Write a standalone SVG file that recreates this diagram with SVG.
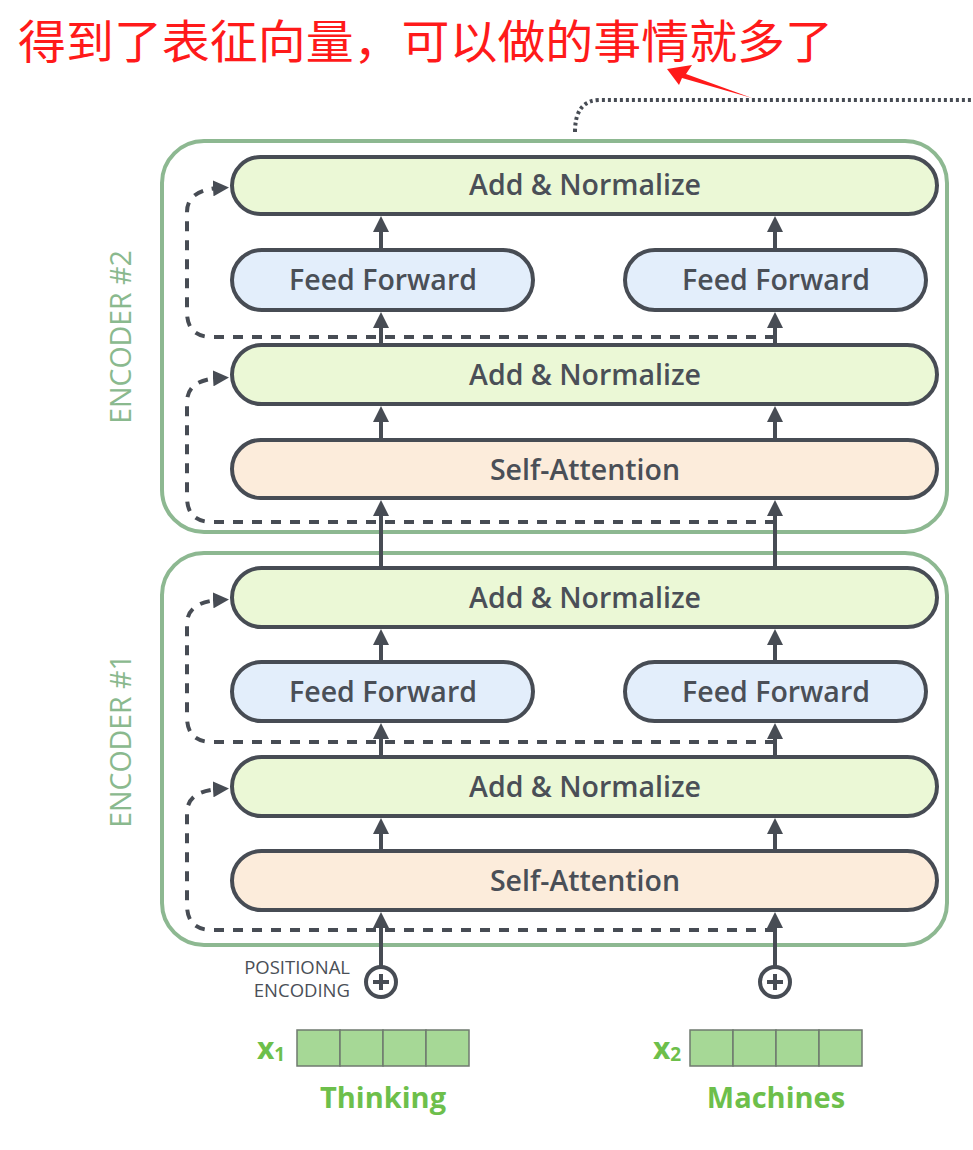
<svg xmlns="http://www.w3.org/2000/svg" width="973" height="1150" viewBox="0 0 973 1150">
<style>
.enc{fill:#fff;stroke:#8db891;stroke-width:4}
.node{stroke:#474c54;stroke-width:4}
.an{fill:#ebf8d6}
.ff{fill:#e3eefb}
.sa{fill:#fcecdb}
.lbl{font-family:"Open Sans","Liberation Sans",sans-serif;font-size:28.5px;font-weight:600;fill:#4a4f57;text-anchor:middle}
.enclbl{font-family:"Open Sans","Liberation Sans",sans-serif;font-size:28.5px;fill:#8ab98e;text-anchor:middle}
.pe{font-family:"Open Sans","Liberation Sans",sans-serif;font-size:18.5px;fill:#4a4f57;text-anchor:end}
.solid{fill:none;stroke:#474c54;stroke-width:4;marker-end:url(#ah)}
.dash{fill:none;stroke:#474c54;stroke-width:4;stroke-dasharray:10 9;marker-end:url(#ah)}
.green{font-family:"Open Sans","Liberation Sans",sans-serif;font-weight:bold;fill:#6dbf4b}
.vec{fill:#a6d896;stroke:#6f7a6f;stroke-width:1.5}
</style>
<defs>
<marker id="ah" viewBox="0 0 10 10" refX="3.75" refY="5" markerWidth="16" markerHeight="16" markerUnits="userSpaceOnUse" orient="auto">
<path d="M0,0 L10,5 L0,10 z" fill="#474c54"/>
</marker>
</defs>
<rect width="973" height="1150" fill="#fff"/>

<g id="title">
<text x="18" y="58" font-family="Noto Sans CJK SC, sans-serif" font-size="46" fill="#ff1a1a" textLength="815" lengthAdjust="spacingAndGlyphs">得到了表征向量，可以做的事情就多了</text>
<polygon points="667,69 692,65 686,74 752,98 682,78 679,85" fill="#ff1a1a"/>
</g>

<g id="encoder2">
<rect class="enc" x="162" y="141" width="785" height="391" rx="42"/>
<text class="enclbl" transform="translate(131,337) rotate(-90)">ENCODER #2</text>
</g>
<g id="encoder1">
<rect class="enc" x="162" y="553" width="785" height="392" rx="42"/>
<text class="enclbl" transform="translate(131,741) rotate(-90)">ENCODER #1</text>
</g>

<g id="connectors">
<path d="M575,132 Q575,100 600,100 H973" fill="none" stroke="#474c54" stroke-width="4" stroke-dasharray="3 3"/>
<path class="dash" d="M775,337 H212 Q187,337 187,312 V212 Q187,190 219,188"/>
<path class="dash" d="M775,522 H212 Q187,522 187,497 V402 Q187,380 219,378"/>
<path class="dash" d="M775,742 H212 Q187,742 187,717 V624 Q187,602 219,600"/>
<path class="dash" d="M775,930 H212 Q187,930 187,905 V813 Q187,791 219,789"/>
<path class="solid" d="M381,250 V226"/>
<path class="solid" d="M775,250 V226"/>
<path class="solid" d="M381,345 V322"/>
<path class="solid" d="M775,345 V322"/>
<path class="solid" d="M381,440 V416"/>
<path class="solid" d="M775,440 V416"/>
<path class="solid" d="M381,568 V510"/>
<path class="solid" d="M775,568 V510"/>
<path class="solid" d="M381,662 V639"/>
<path class="solid" d="M775,662 V639"/>
<path class="solid" d="M381,757 V733"/>
<path class="solid" d="M775,757 V733"/>
<path class="solid" d="M381,851 V828"/>
<path class="solid" d="M775,851 V828"/>
<path class="solid" d="M381,966 V922"/>
<path class="solid" d="M775,966 V922"/>
</g>

<g id="e2-addnorm-top"><rect class="node an" x="232" y="157" width="705" height="57" rx="28.5"/><text class="lbl" x="585" y="195">Add &amp; Normalize</text></g>
<g id="e2-ff-left"><rect class="node ff" x="232" y="250" width="301" height="60" rx="30"/><text class="lbl" x="383" y="290">Feed Forward</text></g>
<g id="e2-ff-right"><rect class="node ff" x="625" y="250" width="301" height="60" rx="30"/><text class="lbl" x="776" y="290">Feed Forward</text></g>
<g id="e2-addnorm-low"><rect class="node an" x="232" y="345" width="705" height="59" rx="29.5"/><text class="lbl" x="585" y="385">Add &amp; Normalize</text></g>
<g id="e2-selfatt"><rect class="node sa" x="232" y="440" width="705" height="58" rx="29"/><text class="lbl" x="585" y="480">Self-Attention</text></g>

<g id="e1-addnorm-top"><rect class="node an" x="232" y="568" width="705" height="59" rx="29.5"/><text class="lbl" x="585" y="608">Add &amp; Normalize</text></g>
<g id="e1-ff-left"><rect class="node ff" x="232" y="662" width="301" height="59" rx="29.5"/><text class="lbl" x="383" y="702">Feed Forward</text></g>
<g id="e1-ff-right"><rect class="node ff" x="625" y="662" width="301" height="59" rx="29.5"/><text class="lbl" x="776" y="702">Feed Forward</text></g>
<g id="e1-addnorm-low"><rect class="node an" x="232" y="757" width="705" height="59" rx="29.5"/><text class="lbl" x="585" y="797">Add &amp; Normalize</text></g>
<g id="e1-selfatt"><rect class="node sa" x="232" y="851" width="705" height="59" rx="29.5"/><text class="lbl" x="585" y="891">Self-Attention</text></g>

<g id="pos-enc">
<text class="pe" x="350" y="974">POSITIONAL</text>
<text class="pe" x="350" y="997">ENCODING</text>
</g>
<g id="plus1">
<circle cx="381" cy="982" r="15" fill="#fff" stroke="#474c54" stroke-width="4"/>
<path d="M373,982 H389 M381,974 V990" stroke="#474c54" stroke-width="4"/>
</g>
<g id="plus2">
<circle cx="775" cy="982" r="15" fill="#fff" stroke="#474c54" stroke-width="4"/>
<path d="M767,982 H783 M775,974 V990" stroke="#474c54" stroke-width="4"/>
</g>

<g id="x1">
<rect class="vec" x="297" y="1030" width="43" height="36"/>
<rect class="vec" x="340" y="1030" width="43" height="36"/>
<rect class="vec" x="383" y="1030" width="43" height="36"/>
<rect class="vec" x="426" y="1030" width="43" height="36"/>
<text class="green" x="257" y="1059" font-size="30">x<tspan font-size="19" dy="2">1</tspan></text>
<text class="green" x="383" y="1108" font-size="29" text-anchor="middle">Thinking</text>
</g>
<g id="x2">
<rect class="vec" x="690" y="1030" width="43" height="36"/>
<rect class="vec" x="733" y="1030" width="43" height="36"/>
<rect class="vec" x="776" y="1030" width="43" height="36"/>
<rect class="vec" x="819" y="1030" width="43" height="36"/>
<text class="green" x="653" y="1059" font-size="30">x<tspan font-size="19" dy="2">2</tspan></text>
<text class="green" x="776" y="1108" font-size="29" text-anchor="middle">Machines</text>
</g>
</svg>
